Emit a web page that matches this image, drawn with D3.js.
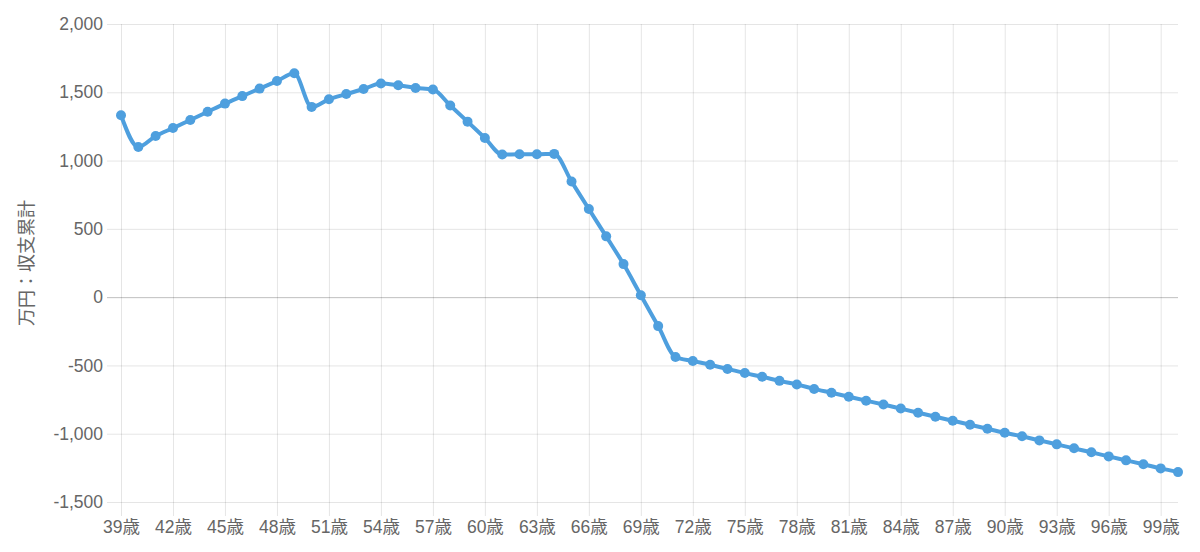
<!DOCTYPE html>
<html><head><meta charset="utf-8">
<script src="https://cdn.jsdelivr.net/npm/d3@7"></script>
<style>
html,body{margin:0;padding:0;background:#fff;}
svg{display:block;}
text{font-family:"Liberation Sans","Helvetica Neue",Arial,"Noto Sans CJK JP",sans-serif;}
</style></head>
<body>
<svg id="chart" width="1200" height="552"></svg>
<script>
const ages = d3.range(39, 101);
const ageSuffix = "歳";
const values = [
  1332, 1100, 1180, 1238, 1297, 1357, 1417, 1472, 1527, 1582,
  1639, 1393, 1449, 1487, 1524, 1564, 1551, 1532, 1520, 1403,
  1285, 1165, 1044, 1046, 1046, 1049, 847, 645, 445, 242,
  14, -212, -438, -467, -495, -526, -556, -583, -613, -639,
  -672, -700, -729, -758, -786, -816, -846, -876, -905, -934,
  -964, -993, -1019, -1049, -1078, -1107, -1136, -1166, -1195, -1224,
  -1254, -1281
];
const yTicks = [2000, 1500, 1000, 500, 0, -500, -1000, -1500];
const xTickAges = d3.range(39, 101, 3);
const yTitle = "万円：収支累計";

const svg = d3.select("#chart");
const mLeft = 121, mRight = 1178, mTop = 24, mBottom = 502;
const x = d3.scaleLinear().domain([39, 100]).range([mLeft, mRight]);
const y = d3.scaleLinear().domain([-1500, 2000]).range([mBottom, mTop]);
const fmt = d3.format(",");

// horizontal grid
const yAxis = d3.axisLeft(y).tickValues(yTicks).tickSize(-(mRight - mLeft)).tickPadding(18)
  .tickFormat(d => fmt(d).replace("\u2212", "-"));
const gy = svg.append("g").attr("transform", `translate(${mLeft},0)`).call(yAxis);
gy.select(".domain").remove();
gy.selectAll(".tick line").attr("x1", -14)
  .attr("stroke", d => d === 0 ? "rgba(0,0,0,0.25)" : "rgba(0,0,0,0.1)").attr("stroke-width", 1);
gy.selectAll(".tick text").attr("fill", "#666").style("font-size", "17.5px");

// vertical grid
const xAxis = d3.axisBottom(x).tickValues(xTickAges).tickSize(-(mBottom - mTop)).tickPadding(19)
  .tickFormat(d => d + ageSuffix);
const gx = svg.append("g").attr("transform", `translate(0,${mBottom})`).call(xAxis);
gx.select(".domain").remove();
gx.selectAll(".tick line").attr("y1", 14).attr("stroke", "rgba(0,0,0,0.1)").attr("stroke-width", 1);
gx.selectAll(".tick text").attr("fill", "#666").style("font-size", "17.5px");

// y title
svg.append("text").attr("transform", `translate(25,${(mTop + mBottom) / 2}) rotate(-90)`)
  .attr("text-anchor", "middle").attr("dominant-baseline", "central")
  .attr("fill", "#666").style("font-size", "18px")
  .style("font-family", "'Noto Sans CJK JP',sans-serif").text(yTitle);

const data = ages.map((a, i) => ({ a, v: values[i] }));
const line = d3.line().x(d => x(d.a)).y(d => y(d.v)).curve(d3.curveMonotoneX);
svg.append("path").datum(data).attr("d", line).attr("fill", "none")
  .attr("stroke", "#4e9fde").attr("stroke-width", 4).attr("stroke-linejoin", "round");
svg.append("g").selectAll("circle").data(data).join("circle")
  .attr("cx", d => x(d.a)).attr("cy", d => y(d.v)).attr("r", 5)
  .attr("fill", "#4e9fde");
</script>
</body></html>
